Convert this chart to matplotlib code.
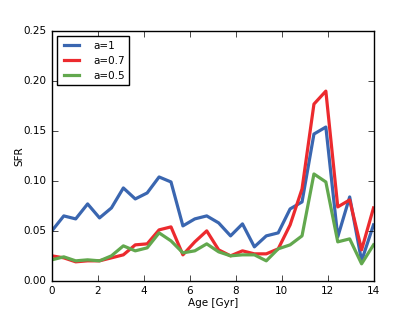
import numpy as np
import matplotlib
matplotlib.use('Agg')
import matplotlib.pyplot as plt

# ages in Gyr, 28 bins from 0 to 14
age = np.linspace(0, 14, 28)

sfr_a1 = [0.050, 0.065, 0.062, 0.077, 0.063, 0.073, 0.093, 0.082, 0.088, 0.104,
          0.099, 0.055, 0.062, 0.065, 0.058, 0.045, 0.057, 0.034, 0.045, 0.048,
          0.072, 0.079, 0.147, 0.154, 0.044, 0.084, 0.020, 0.056]
sfr_a07 = [0.025, 0.023, 0.019, 0.020, 0.020, 0.023, 0.026, 0.036, 0.037, 0.051,
           0.054, 0.026, 0.039, 0.050, 0.031, 0.025, 0.030, 0.027, 0.027, 0.032,
           0.056, 0.092, 0.177, 0.190, 0.074, 0.081, 0.031, 0.073]
sfr_a05 = [0.021, 0.024, 0.020, 0.021, 0.020, 0.025, 0.035, 0.030, 0.033, 0.048,
           0.040, 0.028, 0.030, 0.037, 0.029, 0.025, 0.026, 0.026, 0.020, 0.032,
           0.036, 0.045, 0.107, 0.099, 0.039, 0.042, 0.017, 0.036]

labels = ['a=1', 'a=0.7', 'a=0.5']
colors = ['#3a66b0', '#ec2a2e', '#62a84e']

plt.style.use('classic')
plt.rcParams['font.size'] = 7.5
plt.rcParams['savefig.facecolor'] = 'white'

fig = plt.figure(figsize=(4.15, 3.12), dpi=100)
ax = fig.add_subplot(111)
for y, lab, c in zip([sfr_a1, sfr_a07, sfr_a05], labels, colors):
    ax.plot(age, y, color=c, lw=2.3, label=lab)

ax.set_xlim(0, 14)
ax.set_ylim(0, 0.25)
ax.set_xticks(range(0, 15, 2))
ax.set_yticks([0, 0.05, 0.10, 0.15, 0.20, 0.25])
ax.set_yticklabels(['0.00', '0.05', '0.10', '0.15', '0.20', '0.25'])
ax.set_xlabel('Age [Gyr]', labelpad=1)
ax.set_ylabel('SFR', labelpad=-1)
ax.legend(loc='upper left', fontsize=7.5, handletextpad=1.1)

fig.savefig('out.png', dpi=100)
